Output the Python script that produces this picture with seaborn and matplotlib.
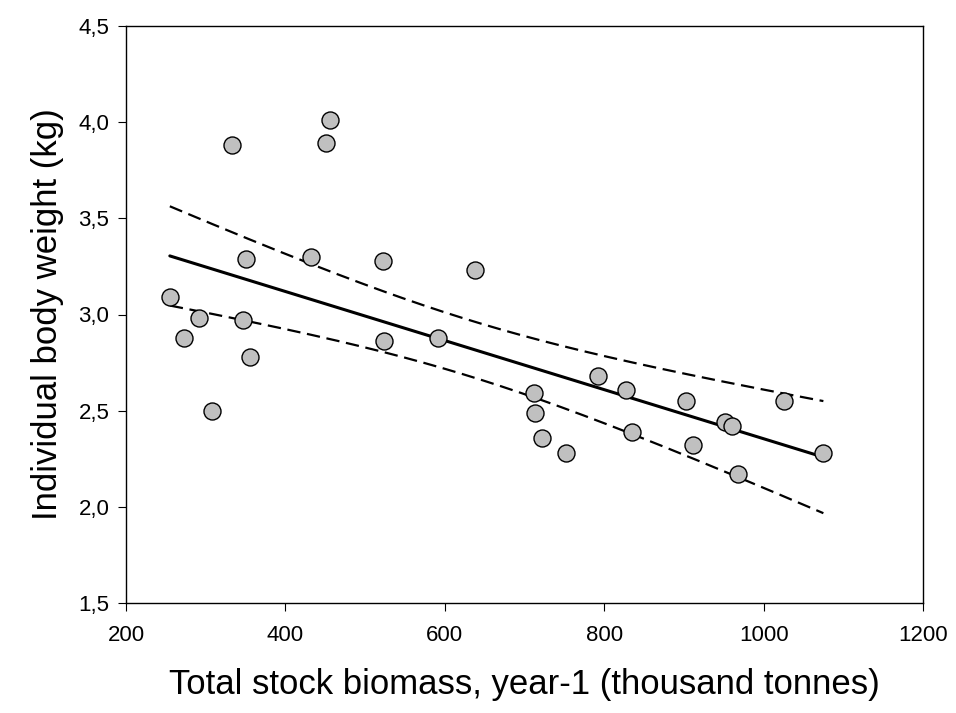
import numpy as np
import matplotlib
matplotlib.use("Agg")
import matplotlib.pyplot as plt
import seaborn as sns

sns.set_style("ticks")
plt.rcParams['font.family'] = ['Liberation Sans', 'DejaVu Sans']

biomass = [255, 273, 292, 308, 333, 347, 351, 356, 432, 451, 456, 522, 524, 591, 638,
           712, 713, 722, 752, 792, 827, 835, 903, 911, 952, 960, 968, 1026, 1075]
weight = [3.09, 2.88, 2.98, 2.50, 3.88, 2.97, 3.29, 2.78, 3.30, 3.89, 4.01, 3.28, 2.86, 2.88, 3.23,
          2.59, 2.49, 2.36, 2.28, 2.68, 2.61, 2.39, 2.55, 2.32, 2.44, 2.42, 2.17, 2.55, 2.28]

x = np.array(biomass, float); y = np.array(weight, float)
n = len(x)
b, a = np.polyfit(x, y, 1)
res = y - (a + b * x)
s = np.sqrt((res ** 2).sum() / (n - 2))
xs = np.linspace(x.min(), x.max(), 200)
t = 2.048
se = s * np.sqrt(1 / n + (xs - x.mean()) ** 2 / ((x - x.mean()) ** 2).sum())
fit = a + b * xs

fig = plt.figure(figsize=(9.56, 7.13), dpi=100)
ax = fig.add_axes([126 / 956, 1 - 603 / 713, (923 - 126) / 956, (603 - 26) / 713])
sns.lineplot(x=xs, y=fit, ax=ax, color='black', lw=2.2)
ax.plot(xs, fit + t * se, color='black', lw=1.6, ls=(0, (6, 3)))
ax.plot(xs, fit - t * se, color='black', lw=1.6, ls=(0, (6, 3)))
sns.scatterplot(x=x, y=y, ax=ax, s=150, color='#c0c0c0', edgecolor='black', linewidth=1, zorder=3)

ax.set_xlim(200, 1200); ax.set_ylim(1.5, 4.5)
ax.set_xticks(range(200, 1201, 200))
yt = np.arange(1.5, 4.51, 0.5)
ax.set_yticks(yt)
ax.set_yticklabels([f"{v:.1f}".replace('.', ',') for v in yt])
ax.tick_params(labelsize=16, direction='out', length=6, color='black', labelcolor='black')
ax.tick_params(axis='x', pad=10)
ax.tick_params(axis='y', pad=6)
for sp in ax.spines.values():
    sp.set_color('black'); sp.set_linewidth(1)
ax.set_xlabel("Total stock biomass, year-1 (thousand tonnes)", fontsize=25, labelpad=16, color='black')
ax.set_ylabel("Individual body weight (kg)", fontsize=25, labelpad=10, color='black')
fig.savefig("out.png", dpi=100)
